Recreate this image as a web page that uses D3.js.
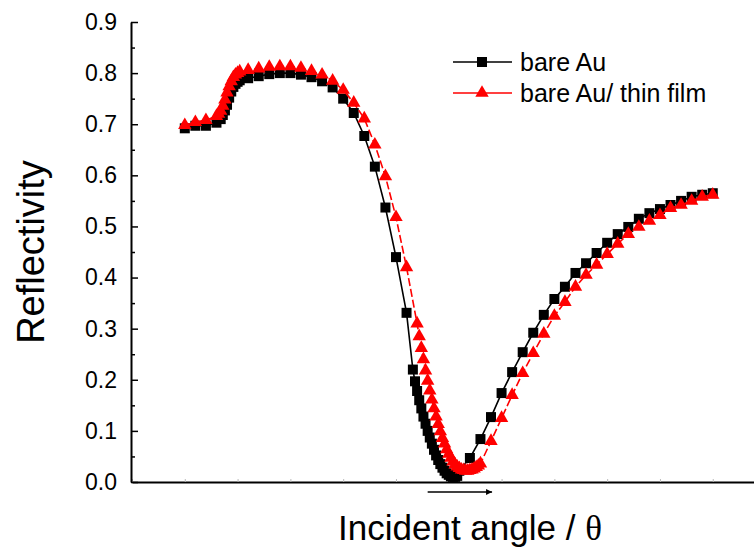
<!DOCTYPE html>
<html>
<head>
<meta charset="utf-8">
<script src="https://cdn.jsdelivr.net/npm/d3@7"></script>
<style>
  body { margin: 0; background: #fff; }
  svg { display: block; font-family: "Liberation Sans", Arial, sans-serif; }
</style>
</head>
<body>
<div id="chart"></div>
<script>
// bare Au (black squares)
const angleAu = [
  41.0, 41.2, 41.4, 41.6,
  41.68, 41.72, 41.76, 41.80, 41.84, 41.88, 41.92, 41.96, 42.00, 42.04,
  42.2, 42.4, 42.6, 42.8, 43.0, 43.2, 43.4, 43.6, 43.8, 44.0, 44.2, 44.4, 44.6, 44.8, 45.0, 45.2,
  45.32, 45.36, 45.40, 45.44, 45.48, 45.52, 45.56, 45.60, 45.64, 45.68, 45.72, 45.76,
  45.80, 45.84, 45.88, 45.92, 45.96, 46.00, 46.04, 46.08, 46.12, 46.16,
  46.2, 46.4, 46.6, 46.8, 47.0, 47.2, 47.4, 47.6, 47.8, 48.0, 48.2, 48.4, 48.6, 48.8,
  49.0, 49.2, 49.4, 49.6, 49.8, 50.0, 50.2, 50.4, 50.6, 50.8, 51.0
];
const reflAu = [
  0.692, 0.697, 0.697, 0.703,
  0.710, 0.718, 0.727, 0.738, 0.752, 0.764, 0.773, 0.779, 0.783, 0.786,
  0.790, 0.794, 0.798, 0.800, 0.800, 0.797, 0.792, 0.784, 0.772, 0.750, 0.722, 0.677, 0.617, 0.537, 0.440, 0.331,
  0.220, 0.197, 0.178, 0.160, 0.144, 0.128, 0.114, 0.100, 0.087, 0.075, 0.063, 0.052,
  0.043, 0.035, 0.028, 0.022, 0.017, 0.014, 0.011, 0.010, 0.010, 0.012,
  0.022, 0.047, 0.084, 0.127, 0.174, 0.215, 0.254, 0.292, 0.327, 0.358, 0.382, 0.409, 0.428, 0.448,
  0.468, 0.485, 0.499, 0.515, 0.526, 0.534, 0.542, 0.550, 0.558, 0.562, 0.565
];

// bare Au / thin film (red triangles)
const angleFilm = [
  41.0, 41.2, 41.4, 41.6,
  41.64, 41.68, 41.72, 41.76, 41.80, 41.84, 41.88, 41.92, 41.96, 42.00, 42.04,
  42.2, 42.4, 42.6, 42.8, 43.0, 43.2, 43.4, 43.6, 43.8, 44.0, 44.2, 44.4, 44.6, 44.8, 45.0, 45.2,
  45.40, 45.44, 45.48, 45.52, 45.56, 45.60, 45.64, 45.68, 45.72, 45.76, 45.80, 45.84, 45.88,
  45.92, 45.96, 46.00, 46.04, 46.08, 46.12, 46.16, 46.20, 46.24, 46.28, 46.32, 46.36, 46.40,
  46.44, 46.48, 46.52, 46.56, 46.60,
  46.8, 47.0, 47.2, 47.4, 47.6, 47.8, 48.0, 48.2, 48.4, 48.6, 48.8,
  49.0, 49.2, 49.4, 49.6, 49.8, 50.0, 50.2, 50.4, 50.6, 50.8, 51.0
];
const reflFilm = [
  0.698, 0.704, 0.708, 0.716,
  0.720, 0.726, 0.736, 0.748, 0.762, 0.774, 0.784, 0.792, 0.797, 0.800, 0.803,
  0.806, 0.809, 0.812, 0.813, 0.813, 0.810, 0.804, 0.797, 0.785, 0.767, 0.742, 0.711, 0.660, 0.598, 0.518, 0.420,
  0.310, 0.285, 0.262, 0.240, 0.218, 0.198, 0.179, 0.161, 0.144, 0.128, 0.113, 0.099, 0.086,
  0.075, 0.064, 0.055, 0.047, 0.040, 0.034, 0.030, 0.027, 0.024, 0.023, 0.022, 0.022, 0.023,
  0.024, 0.026, 0.029, 0.032, 0.036,
  0.080, 0.125, 0.170, 0.213, 0.252, 0.290, 0.325, 0.352, 0.382, 0.405, 0.425,
  0.446, 0.466, 0.485, 0.499, 0.511, 0.522, 0.536, 0.542, 0.550, 0.558, 0.562
];

const yTicks = [0.0, 0.1, 0.2, 0.3, 0.4, 0.5, 0.6, 0.7, 0.8, 0.9];
const yMinor = [0.05, 0.15, 0.25, 0.35, 0.45, 0.55, 0.65, 0.75, 0.85];
const xTicks = [40, 41, 42, 43, 44, 45, 46, 47, 48, 49, 50, 51];
const seriesNames = ["bare Au", "bare Au/ thin film"];

const width = 754, height = 549;

const svg = d3.select("#chart").append("svg")
    .attr("width", width)
    .attr("height", height);

const x = d3.scaleLinear().domain([40, 51.8]).range([132, 755]);
const y = d3.scaleLinear().domain([0, 0.9]).range([482, 22]);

// x axis: plain line with faint little ticks, no labels
const xAxis = svg.append("g")
    .attr("transform", `translate(0,${y(0)})`)
    .call(d3.axisBottom(x).tickValues(xTicks).tickSize(-3).tickSizeOuter(0).tickFormat(""));
xAxis.select(".domain").attr("stroke", "#000").attr("stroke-width", 2);
xAxis.selectAll(".tick line").attr("stroke", "#bbb");

// y axis, ticks pointing inward
const yAxis = svg.append("g")
    .attr("transform", `translate(${x(40) - 1},0)`)
    .call(d3.axisLeft(y).tickValues(yTicks).tickSize(-7).tickSizeOuter(0).tickPadding(14)
        .tickFormat(d3.format(".1f")));
yAxis.select(".domain").attr("stroke", "#000").attr("stroke-width", 2);
yAxis.selectAll(".tick line").attr("stroke", "#000").attr("stroke-width", 1.5);
yAxis.selectAll(".tick text")
    .attr("fill", "#000")
    .style("font-size", "23px")
    .style("font-family", "'Liberation Sans', Arial, sans-serif");

svg.append("g")
    .attr("transform", `translate(${x(40) - 1},0)`)
    .call(d3.axisLeft(y).tickValues(yMinor).tickSize(-4).tickFormat(""))
    .call(g => g.select(".domain").remove())
    .selectAll(".tick line").attr("stroke", "#000").attr("stroke-width", 1.5);

const line = d3.line()
    .x(d => x(d[0]))
    .y(d => y(d[1]));

const auData = d3.zip(angleAu, reflAu);
const filmData = d3.zip(angleFilm, reflFilm);

const square = d3.symbol().type(d3.symbolSquare).size(100);
const triangle = d3.symbol().type(d3.symbolTriangle).size(78);

// black series
svg.append("path")
    .datum(auData)
    .attr("fill", "none")
    .attr("stroke", "#000")
    .attr("stroke-width", 1.6)
    .attr("d", line);

svg.append("g").selectAll("path")
    .data(auData)
    .join("path")
    .attr("transform", d => `translate(${x(d[0])},${y(d[1])})`)
    .attr("d", square)
    .attr("fill", "#000");

// red series on top
svg.append("path")
    .datum(filmData)
    .attr("fill", "none")
    .attr("stroke", "#ff0000")
    .attr("stroke-width", 1.6)
    .attr("stroke-dasharray", "8,3")
    .attr("d", line);

svg.append("g").selectAll("path")
    .data(filmData)
    .join("path")
    .attr("transform", d => `translate(${x(d[0])},${y(d[1])})`)
    .attr("d", triangle)
    .attr("fill", "#ff0000");

// legend
const legend = svg.append("g");
const legendRows = [
    { name: seriesNames[0], color: "#000", sym: square, y: 62 },
    { name: seriesNames[1], color: "#ff0000", sym: triangle, y: 93 }
];
legendRows.forEach(r => {
    legend.append("line")
        .attr("x1", 453).attr("x2", 512)
        .attr("y1", r.y).attr("y2", r.y)
        .attr("stroke", r.color)
        .attr("stroke-width", 1.6);
    legend.append("path")
        .attr("transform", `translate(482,${r.y})`)
        .attr("d", r.sym)
        .attr("fill", r.color);
    legend.append("text")
        .attr("x", 520)
        .attr("y", r.y + 9)
        .style("font-size", "25px")
        .text(r.name);
});

// arrow under the dip
svg.append("defs").append("marker")
    .attr("id", "arrowhead")
    .attr("viewBox", "0 0 10 10")
    .attr("refX", 10).attr("refY", 5)
    .attr("markerWidth", 10).attr("markerHeight", 6)
    .attr("markerUnits", "userSpaceOnUse")
    .attr("orient", "auto")
    .append("path")
    .attr("d", "M0,0L10,5L0,10z")
    .attr("fill", "#000");

svg.append("line")
    .attr("x1", x(45.6)).attr("x2", x(46.82))
    .attr("y1", 492).attr("y2", 492)
    .attr("stroke", "#000")
    .attr("stroke-width", 1.3)
    .attr("marker-end", "url(#arrowhead)");

// axis titles
const xTitle = svg.append("text")
    .attr("x", 470)
    .attr("y", 540)
    .attr("text-anchor", "middle")
    .style("font-size", "35px");
xTitle.append("tspan").text("Incident angle / ");
xTitle.append("tspan").style("font-family", "'Liberation Serif', 'DejaVu Serif', serif").text("θ");

svg.append("text")
    .attr("transform", "translate(44,252) rotate(-90)")
    .attr("text-anchor", "middle")
    .style("font-size", "38px")
    .text("Reflectivity");
</script>
</body>
</html>
